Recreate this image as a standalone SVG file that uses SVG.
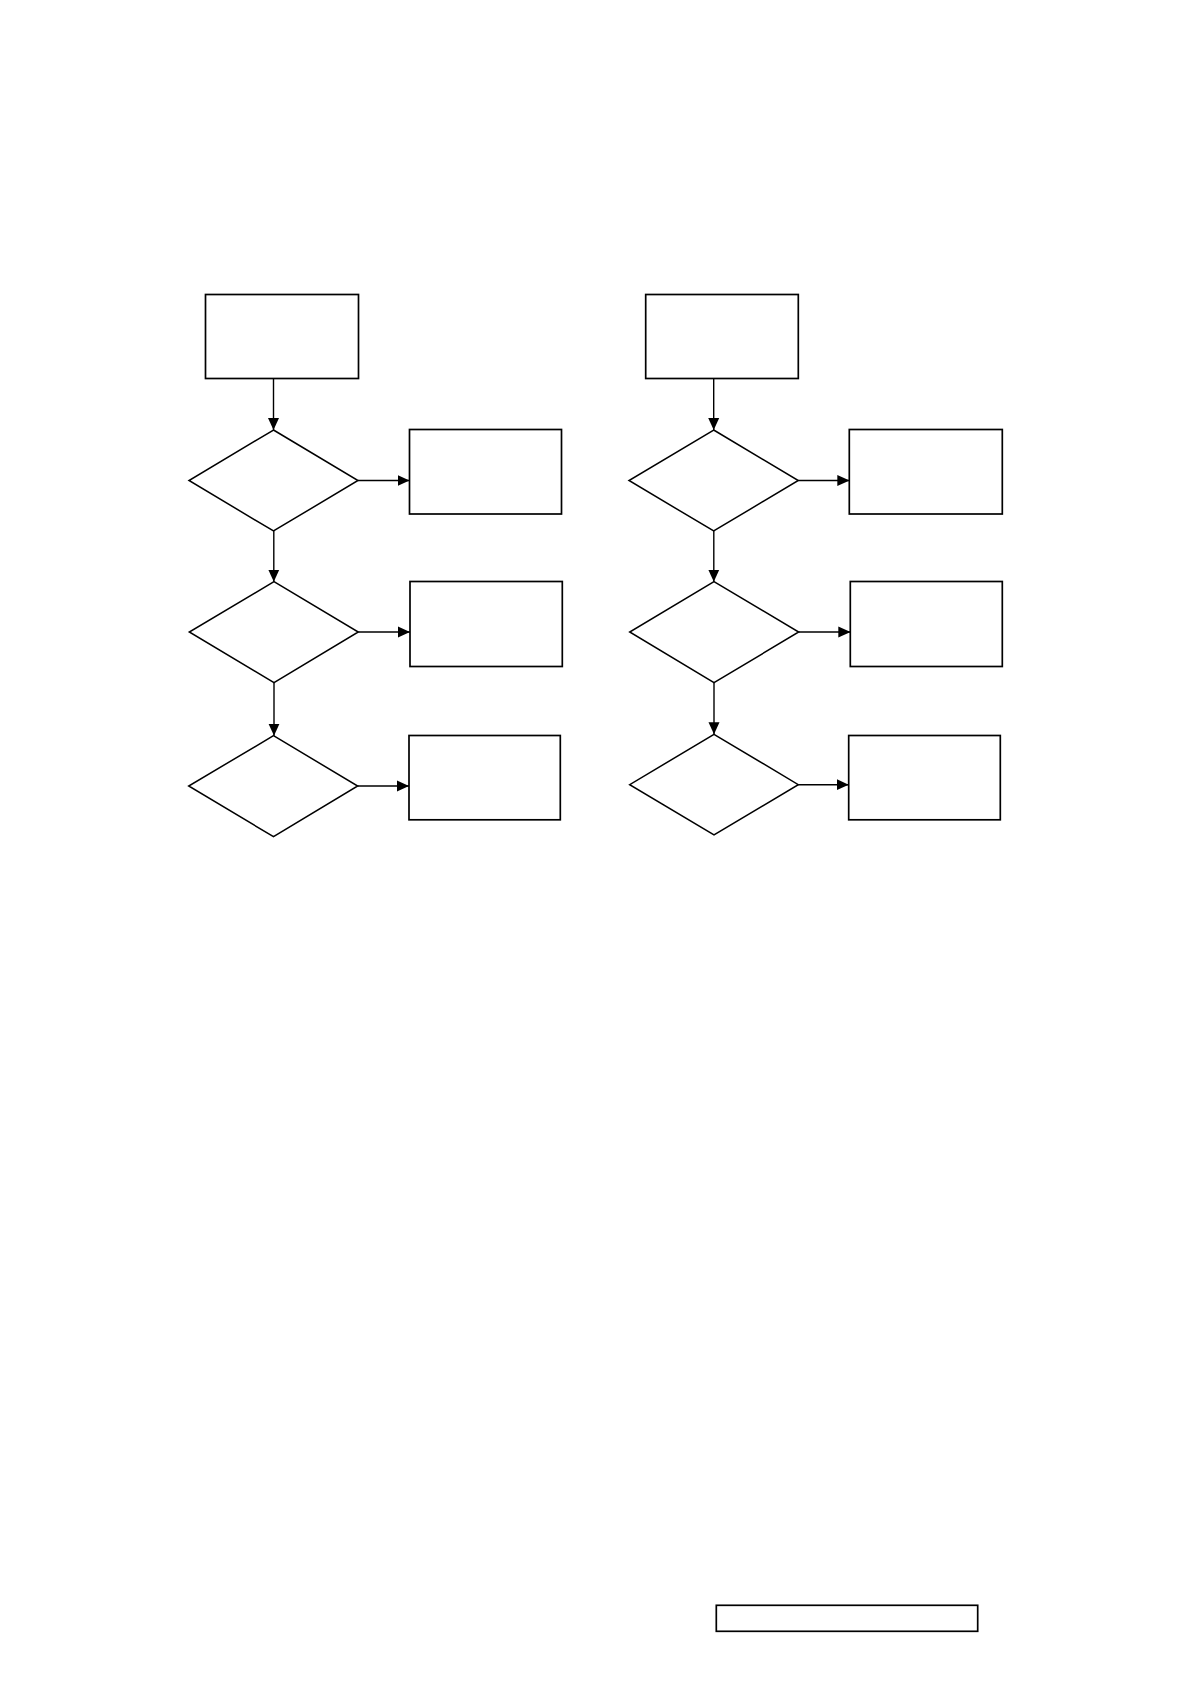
<svg xmlns="http://www.w3.org/2000/svg" width="1190" height="1684" viewBox="0 0 1190 1684">
  <style>
    .box { fill: #ffffff; stroke: #000000; stroke-width: 1.7; }
    .dia { fill: #ffffff; stroke: #000000; stroke-width: 1.5; }
    .conn { fill: none; stroke: #000000; stroke-width: 1.4; }
  </style>
  <defs>
    <marker id="arrow" markerUnits="userSpaceOnUse" markerWidth="12" markerHeight="12" refX="12" refY="6" orient="auto">
      <path d="M0,0.5 L12,6 L0,11.5 Z" fill="#000000"/>
    </marker>
  </defs>
  <rect x="0" y="0" width="1190" height="1684" fill="#ffffff"/>

  <!-- Left column -->
  <g id="L-start"><rect class="box" x="205.5" y="294.5" width="153" height="84"/></g>
  <g id="L-dec1"><polygon class="dia" points="273.5,430 358,480.5 273.5,531 189,480.5"/></g>
  <g id="L-res1"><rect class="box" x="409.5" y="429.5" width="152" height="84.5"/></g>
  <g id="L-dec2"><polygon class="dia" points="274,581.7 358.3,632 274,682.7 189.3,632"/></g>
  <g id="L-res2"><rect class="box" x="410" y="581.5" width="152.3" height="85"/></g>
  <g id="L-dec3"><polygon class="dia" points="273.5,735.7 357.7,786 273.5,836.7 188.7,786"/></g>
  <g id="L-res3"><rect class="box" x="409" y="735.5" width="151.3" height="84.3"/></g>

  <!-- Right column -->
  <g id="R-start"><rect class="box" x="645.7" y="294.5" width="152.6" height="84"/></g>
  <g id="R-dec1"><polygon class="dia" points="713.7,430 798.3,480.5 713.7,531 629,480.5"/></g>
  <g id="R-res1"><rect class="box" x="849.3" y="429.5" width="153" height="84.5"/></g>
  <g id="R-dec2"><polygon class="dia" points="714,581.7 798.7,632 714,682.7 629.7,632"/></g>
  <g id="R-res2"><rect class="box" x="850.3" y="581.5" width="152" height="85"/></g>
  <g id="R-dec3"><polygon class="dia" points="714,734.3 798.3,784.7 714,835 629.7,784.7"/></g>
  <g id="R-res3"><rect class="box" x="848.7" y="735.5" width="151.6" height="84.3"/></g>

  <!-- Footer box -->
  <g id="footer"><rect class="box" x="716.3" y="1605.3" width="261.4" height="26"/></g>

  <!-- Connectors -->
  <g id="connectors">
    <line class="conn" x1="273.5" y1="378.5" x2="273.5" y2="430" marker-end="url(#arrow)"/>
    <line class="conn" x1="358" y1="480.5" x2="409.5" y2="480.5" marker-end="url(#arrow)"/>
    <line class="conn" x1="273.8" y1="531" x2="273.8" y2="581.7" marker-end="url(#arrow)"/>
    <line class="conn" x1="358.3" y1="632" x2="410" y2="632" marker-end="url(#arrow)"/>
    <line class="conn" x1="274" y1="682.7" x2="274" y2="735.7" marker-end="url(#arrow)"/>
    <line class="conn" x1="357.7" y1="786" x2="409" y2="786" marker-end="url(#arrow)"/>

    <line class="conn" x1="713.7" y1="378.5" x2="713.7" y2="430" marker-end="url(#arrow)"/>
    <line class="conn" x1="798.3" y1="480.5" x2="849.3" y2="480.5" marker-end="url(#arrow)"/>
    <line class="conn" x1="713.8" y1="531" x2="713.8" y2="581.7" marker-end="url(#arrow)"/>
    <line class="conn" x1="798.7" y1="632" x2="850.3" y2="632" marker-end="url(#arrow)"/>
    <line class="conn" x1="714" y1="682.7" x2="714" y2="734.3" marker-end="url(#arrow)"/>
    <line class="conn" x1="798.3" y1="784.7" x2="848.7" y2="784.7" marker-end="url(#arrow)"/>
  </g>
</svg>
